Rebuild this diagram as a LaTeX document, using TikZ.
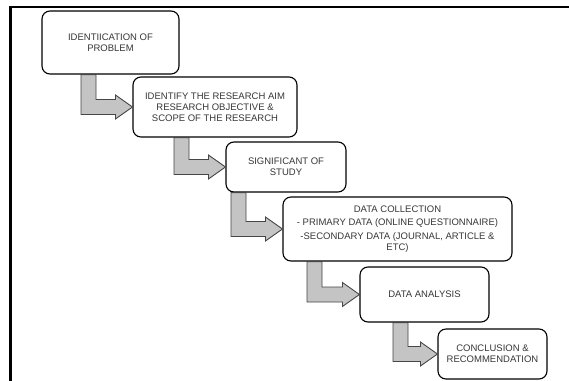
\documentclass[tikz,border=0pt]{standalone}
\usepackage{fontspec}
\setmainfont{Liberation Sans}
\usetikzlibrary{calc}
\definecolor{arrowfill}{RGB}{196,196,196}
\definecolor{arrowline}{RGB}{70,70,70}
\definecolor{txt}{RGB}{55,55,55}
\tikzset{
  stagebox/.style={draw=black, line width=1.1pt, rounded corners=8pt, fill=white,
    align=center, text=txt, font=\fontsize{9.5}{11}\selectfont, inner sep=0pt},
  bent/.style={fill=arrowfill, draw=arrowline, line width=0.9pt, line join=miter}
}
\newcommand\bentarrow[3]{%
  \path[bent] let \p1=(#1.south), \p2=(#2.west) in
    ({#3pt},\y1) -- ({#3pt+15pt},\y1) -- ({#3pt+15pt},{\y2+7.5pt})
    -- ({\x2-17pt},{\y2+7.5pt}) -- ({\x2-17pt},{\y2+12pt}) -- (\x2,\y2)
    -- ({\x2-17pt},{\y2-12pt}) -- ({\x2-17pt},{\y2-7.5pt})
    -- ({#3pt},{\y2-7.5pt}) -- cycle;}
\begin{document}
\begin{tikzpicture}[x=1pt,y=-1pt]
\useasboundingbox (0,0) rectangle (569,380);
\fill[white] (0,0) rectangle (569,380);
\begin{scope}
  \clip (0,0) rectangle (569,380);
  \draw[line width=2.2pt, black] (10.5,7) rectangle (600,420);
\end{scope}
% stage boxes
\node[stagebox, minimum width=137pt, minimum height=63pt] (b1) at (110.5,42.5)
  {IDENTIICATION OF\\PROBLEM};
\node[stagebox, minimum width=164pt, minimum height=60pt] (b2) at (215,107)
  {IDENTIFY THE RESEARCH AIM\\RESEARCH OBJECTIVE \&\\SCOPE OF THE RESEARCH};
\node[stagebox, minimum width=120pt, minimum height=50pt] (b3) at (286,167)
  {SIGNIFICANT OF\\STUDY};
\node[stagebox, minimum width=229pt, minimum height=64pt] (b4) at (397.5,229)
  {DATA COLLECTION\\[2.5pt]- PRIMARY DATA (ONLINE QUESTIONNAIRE)\\[2.5pt]-SECONDARY DATA (JOURNAL, ARTICLE \&\\ETC)};
\node[stagebox, minimum width=129pt, minimum height=55pt] (b5) at (424.5,294.5)
  {DATA ANALYSIS};
\node[stagebox, minimum width=109pt, minimum height=50pt] (b6) at (492.5,354)
  {CONCLUSION \&\\RECOMMENDATION};
% bent arrows
\bentarrow{b1}{b2}{81}
\bentarrow{b2}{b3}{174}
\bentarrow{b3}{b4}{231}
\bentarrow{b4}{b5}{307}
\bentarrow{b5}{b6}{393}
\end{tikzpicture}
\end{document}
